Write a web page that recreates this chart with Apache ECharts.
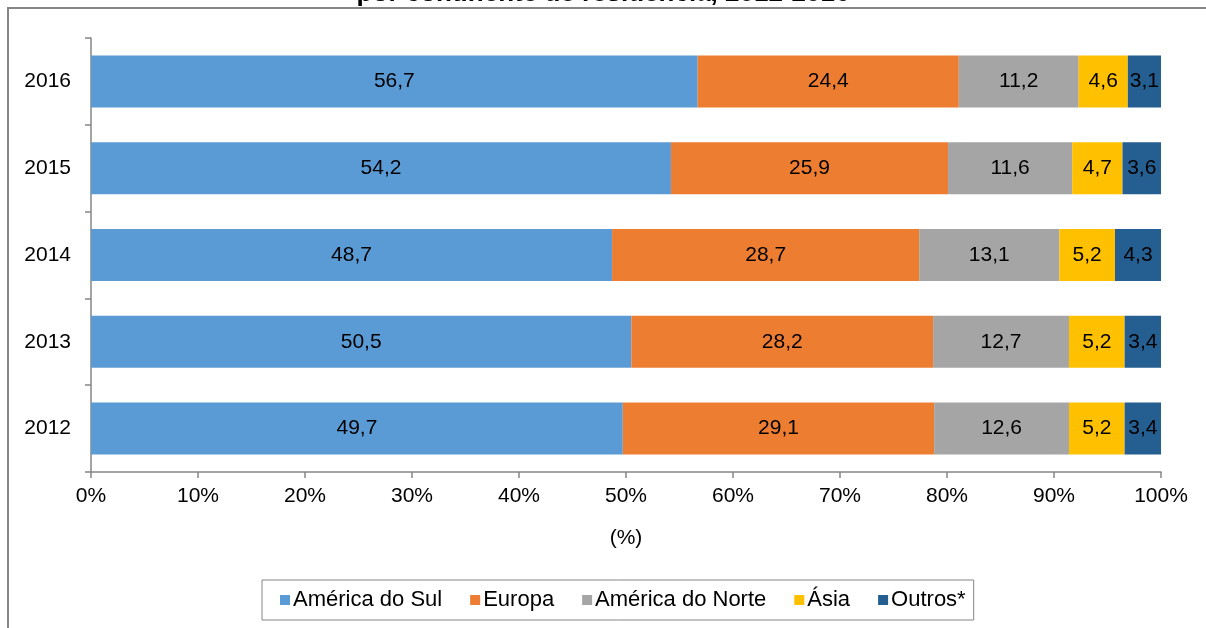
<!DOCTYPE html>
<html>
<head>
<meta charset="utf-8">
<script src="https://cdn.jsdelivr.net/npm/echarts@6/dist/echarts.min.js"></script>
<style>
  html, body { margin: 0; padding: 0; background: #fff; }
  #chart { width: 1206px; height: 628px; }
</style>
</head>
<body>
<div id="chart"></div>
<script>
// anos (de baixo para cima)
const years = ['2012', '2013', '2014', '2015', '2016']
const xTicks = [0, 10, 20, 30, 40, 50, 60, 70, 80, 90, 100]

const americaSul = [49.7, 50.5, 48.7, 54.2, 56.7]
const europa = [29.1, 28.2, 28.7, 25.9, 24.4]
const americaNorte = [12.6, 12.7, 13.1, 11.6, 11.2]
const asia = [5.2, 5.2, 5.2, 4.7, 4.6]
const outros = [3.4, 3.4, 4.3, 3.6, 3.1]

const seriesDefs = [
  { name: 'América do Sul', data: americaSul, color: '#5B9BD5' },
  { name: 'Europa', data: europa, color: '#ED7D31' },
  { name: 'América do Norte', data: americaNorte, color: '#A5A5A5' },
  { name: 'Ásia', data: asia, color: '#FFC000' },
  { name: 'Outros*', data: outros, color: '#255E91' }
]

const font = 'Liberation Sans, Arial, sans-serif'
const chart = echarts.init(document.getElementById('chart'))

const option = {
  animation: false,
  textStyle: { fontFamily: font },
  title: {
    text: 'por continente de residência, 2012-2016',
    left: 'center',
    top: -24,
    textStyle: { fontFamily: font, fontSize: 26, fontWeight: 'bold', color: '#000' }
  },
  graphic: [
    {
      type: 'rect',
      z: -10,
      shape: { x: 8, y: 8, width: 1300, height: 700 },
      style: { fill: 'none', stroke: '#868686', lineWidth: 2 }
    }
  ],
  legend: {
    left: 262,
    top: 580,
    padding: [9, 8, 9, 18],
    borderColor: '#868686',
    borderWidth: 1,
    itemWidth: 10,
    itemHeight: 10,
    itemGap: 28,
    icon: 'rect',
    textStyle: { fontFamily: font, fontSize: 22, color: '#000', padding: [0, 0, 0, -2] },
    data: seriesDefs.map(s => s.name)
  },
  grid: { left: 91, top: 38, width: 1070, height: 434, containLabel: false },
  xAxis: {
    type: 'value',
    min: 0,
    max: 100,
    interval: 10,
    name: '(%)',
    nameLocation: 'middle',
    nameGap: 56,
    nameTextStyle: { fontFamily: font, fontSize: 21, color: '#000' },
    axisLine: { show: true, lineStyle: { color: '#868686', width: 1.5 } },
    axisTick: { show: true, length: 6, lineStyle: { color: '#868686', width: 1.5 } },
    splitLine: { show: false },
    axisLabel: {
      fontFamily: font, fontSize: 21, color: '#000', margin: 14,
      formatter: v => xTicks.includes(v) ? v + '%' : ''
    }
  },
  yAxis: {
    type: 'category',
    data: years,
    axisLine: { show: true, lineStyle: { color: '#868686', width: 1.5 } },
    axisTick: { show: true, length: 6, lineStyle: { color: '#868686', width: 1.5 } },
    axisLabel: { fontFamily: font, fontSize: 21, color: '#000', margin: 20 }
  },
  series: seriesDefs.map(s => ({
    name: s.name,
    type: 'bar',
    stack: 'total',
    barWidth: 52,
    data: s.data,
    itemStyle: { color: s.color },
    label: {
      show: true,
      position: 'inside',
      fontFamily: font,
      fontSize: 21,
      color: '#000',
      formatter: p => p.value.toFixed(1).replace('.', ',')
    }
  }))
}

chart.setOption(option)
</script>
</body>
</html>
